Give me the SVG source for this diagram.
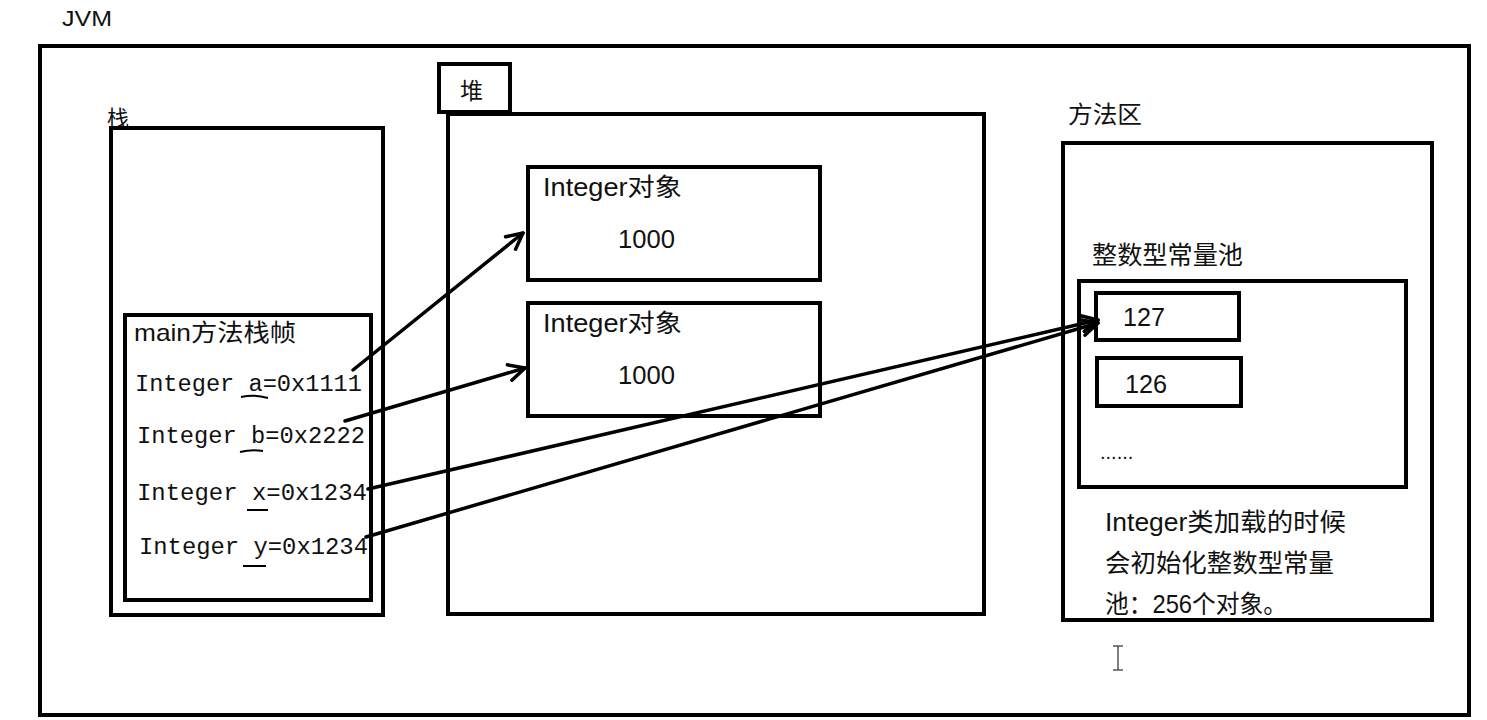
<svg xmlns="http://www.w3.org/2000/svg" width="1487" height="720" viewBox="0 0 1487 720">
<style>
.box{fill:none;stroke:#000;stroke-width:4}
.t{font-family:"Liberation Sans","Noto Sans CJK SC",sans-serif;fill:#111}
.m{font-family:"Liberation Mono","DejaVu Sans Mono",monospace;fill:#111;font-size:23px}
.c{fill:none;stroke:#000;stroke-width:3.5;stroke-linecap:round}
.u{fill:none;stroke:#000;stroke-width:2}
</style>
<defs>
<marker id="ah" viewBox="0 0 20 20" refX="18" refY="10" markerWidth="20" markerHeight="20" markerUnits="userSpaceOnUse" orient="auto">
<path d="M2,2 L18,10 L2,18" fill="none" stroke="#000" stroke-width="3.5" stroke-linecap="round" stroke-linejoin="round"/>
</marker>
</defs>
<rect width="1487" height="720" fill="#fff"/>
<g id="jvm">
<rect class="box" x="40" y="46" width="1429" height="669"/>
<text class="t" x="62" y="26" font-size="22" textLength="50" lengthAdjust="spacingAndGlyphs">JVM</text>
</g>
<g id="stack">
<text class="t" x="107" y="126" font-size="22">栈</text>
<rect class="box" x="111" y="128" width="272" height="487"/>
</g>
<g id="main-frame">
<rect class="box" x="125" y="315" width="246" height="285"/>
<text class="t" x="134" y="341" font-size="24" textLength="162" lengthAdjust="spacingAndGlyphs">main方法栈帧</text>
<text class="m" x="135" y="391" textLength="227" lengthAdjust="spacingAndGlyphs">Integer a=0x1111</text>
<text class="m" x="137" y="443" textLength="228" lengthAdjust="spacingAndGlyphs">Integer b=0x2222</text>
<text class="m" x="137" y="500" textLength="230" lengthAdjust="spacingAndGlyphs">Integer x=0x1234</text>
<text class="m" x="139" y="554" textLength="229" lengthAdjust="spacingAndGlyphs">Integer y=0x1234</text>
<path class="u" stroke-width="3" d="M241,397 Q255,394 268,398"/>
<path class="u" stroke-width="3" d="M240,452 Q252,449 263,451"/>
<path class="u" d="M247,510 L268,510"/>
<path class="u" d="M243,566 L266,566"/>
</g>
<g id="heap">
<rect class="box" x="439" y="64" width="71" height="48"/>
<text class="t" x="460" y="99" font-size="23">堆</text>
<rect class="box" x="448" y="114" width="536" height="500"/>
</g>
<g id="obj1">
<rect class="box" x="528" y="167" width="292" height="113"/>
<text class="t" x="543" y="196" font-size="25" textLength="139" lengthAdjust="spacingAndGlyphs">Integer对象</text>
<text class="t" x="618" y="248" font-size="25" textLength="57" lengthAdjust="spacingAndGlyphs">1000</text>
</g>
<g id="obj2">
<rect class="box" x="528" y="303" width="292" height="113"/>
<text class="t" x="543" y="332" font-size="25" textLength="139" lengthAdjust="spacingAndGlyphs">Integer对象</text>
<text class="t" x="618" y="384" font-size="25" textLength="57" lengthAdjust="spacingAndGlyphs">1000</text>
</g>
<g id="method-area">
<text class="t" x="1068" y="123" font-size="24" textLength="74" lengthAdjust="spacingAndGlyphs">方法区</text>
<rect class="box" x="1063" y="143" width="369" height="477"/>
<text class="t" x="1092" y="264" font-size="25" textLength="151" lengthAdjust="spacingAndGlyphs">整数型常量池</text>
<text class="t" x="1105" y="531" font-size="25" textLength="241" lengthAdjust="spacingAndGlyphs">Integer类加载的时候</text>
<text class="t" x="1105" y="572" font-size="25" textLength="229" lengthAdjust="spacingAndGlyphs">会初始化整数型常量</text>
<text class="t" x="1105" y="613" font-size="25" textLength="182" lengthAdjust="spacingAndGlyphs">池：256个对象。</text>
</g>
<g id="pool">
<rect class="box" x="1079" y="281" width="327" height="206"/>
<text class="t" x="1100" y="459" font-size="20">......</text>
</g>
<g id="c127">
<rect class="box" x="1096" y="293" width="143" height="47"/>
<text class="t" x="1123" y="326" font-size="25" textLength="42" lengthAdjust="spacingAndGlyphs">127</text>
</g>
<g id="c126">
<rect class="box" x="1097" y="358" width="144" height="48"/>
<text class="t" x="1125" y="393" font-size="25" textLength="42" lengthAdjust="spacingAndGlyphs">126</text>
</g>
<g id="connectors">
<path class="c" d="M353,370 L523,233" marker-end="url(#ah)"/>
<path class="c" d="M345,421 L525,368" marker-end="url(#ah)"/>
<path class="c" d="M368,489 L1098,320" marker-end="url(#ah)"/>
<path class="c" d="M366,537 L1098,323" marker-end="url(#ah)"/>
</g>
<path d="M1113,646 H1123 M1118,646 V670 M1113,670 H1123" stroke="#555" stroke-width="1.5" fill="none"/>
</svg>
